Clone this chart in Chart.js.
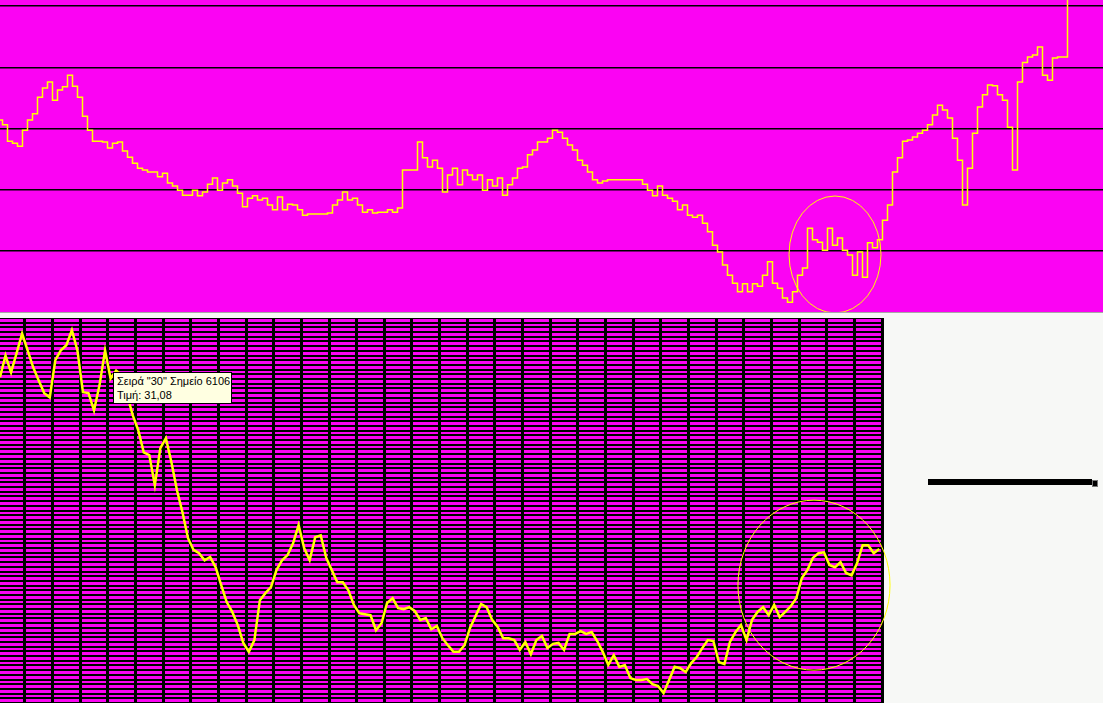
<!DOCTYPE html>
<html>
<head>
<meta charset="utf-8">
<title>Σειρά 30</title>
<script src="https://cdn.jsdelivr.net/npm/chart.js@4.4.1/dist/chart.umd.min.js"></script>
<style>
  html, body { margin: 0; padding: 0; background: #f7f8f6; }
  body { width: 1103px; height: 703px; position: relative; overflow: hidden; }
  #top { position: absolute; left: 0; top: 0; }
  #bottom { position: absolute; left: 0; top: 318px; }
  .seam { position: absolute; left: 0; top: 312px; width: 1103px; height: 1px; background: #a8a8a8; }
  .tip {
    position: absolute; left: 113px; top: 372px; width: 114px; height: 29px;
    background: #ffffe1; border: 1px solid #000; color: #000;
    font: 11px "Liberation Sans", Arial, sans-serif; line-height: 14px;
    padding: 1px 0 0 3px; white-space: nowrap;
  }
  .bar { position: absolute; left: 928px; top: 479px; width: 164px; height: 6px; background: #000; }
  .knob { position: absolute; left: 1092px; top: 480px; width: 4px; height: 5px; background: #000; border: 1px solid #777; }
</style>
</head>
<body>
<canvas id="top" width="1103" height="312"></canvas>
<div class="seam"></div>
<canvas id="bottom" width="1103" height="385"></canvas>
<div class="tip">Σειρά "30" Σημείο 6106<br>Τιμή: 31,08</div>
<div class="bar"></div>
<div class="knob"></div>

<script>
// upper panel: long history, one value per sample
const TOP_START = 0;
const TOP_STEP = 1;
const TOP_X_MAX = 220.6;
const TOP_GRID = [10, 20, 30, 40, 50];
const TOP_VALUES = [
  31.4, 30.6, 27.9, 27.6, 27.1, 29.7, 31.4, 32.4, 35.1, 36.6,
  37.6, 34.6, 36.3, 36.8, 38.7, 36.9, 35.1, 32.0, 29.7, 27.9,
  27.9, 27.8, 26.8, 27.6, 27.8, 26.3, 25.3, 24.3, 23.5, 23.2,
  22.9, 22.9, 22.1, 22.7, 21.1, 20.6, 19.9, 19.1, 19.1, 19.9,
  19.0, 19.6, 20.9, 21.9, 19.9, 21.1, 21.6, 20.6, 19.4, 17.2,
  18.6, 19.0, 18.3, 18.6, 17.5, 16.7, 18.8, 16.7, 17.6, 17.5,
  16.7, 15.8, 16.0, 16.0, 16.0, 16.0, 16.2, 17.5, 18.3, 19.6,
  18.3, 18.6, 17.5, 16.3, 16.7, 16.2, 16.3, 16.3, 16.7, 16.3,
  17.0, 23.2, 23.2, 23.2, 27.8, 25.2, 23.7, 24.8, 23.5, 19.6,
  22.4, 23.5, 20.8, 23.2, 22.4, 21.6, 22.4, 19.9, 21.6, 20.6,
  21.9, 19.1, 20.8, 21.9, 23.5, 23.7, 25.7, 26.5, 27.8, 27.8,
  28.4, 29.7, 29.4, 28.4, 27.3, 26.5, 24.8, 24.0, 22.9, 21.6,
  21.1, 21.4, 21.6, 21.6, 21.6, 21.6, 21.6, 21.6, 21.6, 20.9,
  19.9, 19.0, 20.6, 19.1, 18.6, 18.1, 16.7, 17.5, 15.8, 15.5,
  15.8, 14.5, 13.1, 10.9, 9.8, 7.7, 6.0, 4.7, 3.3, 4.6,
  3.3, 4.6, 4.2, 6.0, 8.2, 4.7, 3.9, 2.3, 1.6, 3.3,
  6.0, 7.2, 13.7, 11.8, 11.4, 10.1, 13.7, 10.9, 12.1, 10.1,
  9.3, 6.0, 9.8, 5.7, 11.3, 10.5, 11.8, 15.0, 17.5, 22.9,
  25.2, 27.9, 28.1, 28.6, 29.2, 29.7, 30.6, 32.2, 33.8, 33.0,
  31.7, 28.4, 24.8, 17.5, 23.5, 29.2, 33.5, 35.5, 37.1, 37.0,
  35.5, 34.6, 30.2, 23.2, 37.6, 40.8, 41.7, 42.0, 43.3, 38.7,
  37.9, 41.5, 41.7, 41.7, 52.0
];
const TOP_RING = { x: 167, y: 9.4, rx: 9.2, ry: 9.56 };

// lower panel: series "30", points 6022..6658 every 4th point
const BOTTOM_START = 6022;
const BOTTOM_STEP = 4;
const BOTTOM_X_MIN = 6022;
const BOTTOM_X_MAX = 6660;
const BOTTOM_Y_MIN = 24;
const BOTTOM_Y_MAX = 32.2;
const BOTTOM_VALUES = [
  30.94, 31.40, 31.04, 31.45, 31.87, 31.51, 31.15, 30.87, 30.60, 30.51,
  31.30, 31.51, 31.62, 31.94, 31.51, 30.62, 30.60, 30.23, 30.77, 31.51,
  30.91, 31.08, 30.98, 30.55, 30.13, 29.81, 29.34, 29.28, 28.64, 29.43,
  29.64, 29.13, 28.53, 28.06, 27.51, 27.26, 27.19, 27.04, 27.11, 26.89,
  26.51, 26.15, 25.94, 25.66, 25.28, 25.09, 25.34, 26.19, 26.34, 26.47,
  26.83, 27.04, 27.15, 27.40, 27.79, 27.30, 27.04, 27.53, 27.57, 27.09,
  26.83, 26.57, 26.57, 26.40, 26.09, 25.91, 25.89, 25.87, 25.55, 25.70,
  26.13, 26.23, 26.02, 26.00, 26.04, 25.96, 25.77, 25.81, 25.57, 25.64,
  25.38, 25.23, 25.09, 25.09, 25.23, 25.60, 25.85, 26.11, 26.04, 25.77,
  25.62, 25.38, 25.38, 25.34, 25.13, 25.30, 25.04, 25.34, 25.43, 25.17,
  25.26, 25.28, 25.13, 25.47, 25.47, 25.53, 25.47, 25.51, 25.32, 25.09,
  24.81, 25.02, 24.77, 24.81, 24.53, 24.49, 24.49, 24.51, 24.40, 24.36,
  24.21, 24.49, 24.77, 24.74, 24.66, 24.85, 24.98, 25.17, 25.34, 25.32,
  24.87, 24.83, 25.30, 25.51, 25.66, 25.34, 25.77, 25.94, 26.04, 25.87,
  26.09, 25.83, 25.94, 26.06, 26.23, 26.66, 26.83, 27.09, 27.19, 27.21,
  26.94, 26.89, 27.00, 26.77, 26.72, 26.98, 27.36, 27.36, 27.19, 27.28
];
const BOTTOM_RING = { x: 6610.8, y: 26.51, rx: 55, ry: 1.81 };

// grid positions
const BOTTOM_X_GRID = [];
for (let v = 6040; v <= BOTTOM_X_MAX; v += 20) BOTTOM_X_GRID.push(v);
const BOTTOM_Y_GRID = [];
for (let k = 0; k <= 82; k++) BOTTOM_Y_GRID.push(+(BOTTOM_Y_MIN + k * 0.1).toFixed(1));

const MAGENTA = '#fb03f3';
const YELLOW = '#ffff00';

// fill the plot area
const panelBg = {
  id: 'panelBg',
  beforeDraw(chart, args, opts) {
    const { ctx, chartArea: a } = chart;
    ctx.save();
    ctx.fillStyle = opts.color;
    ctx.fillRect(a.left, a.top, a.width, a.height);
    ctx.restore();
  }
};

// yellow ring drawn in data units
const ring = {
  id: 'ring',
  afterDatasetsDraw(chart, args, opts) {
    const { ctx, scales: { x, y } } = chart;
    const cx = x.getPixelForValue(opts.x);
    const cy = y.getPixelForValue(opts.y);
    const rx = Math.abs(x.getPixelForValue(opts.x + opts.rx) - cx);
    const ry = Math.abs(y.getPixelForValue(opts.y + opts.ry) - cy);
    ctx.save();
    ctx.strokeStyle = opts.color;
    ctx.lineWidth = 1;
    ctx.beginPath();
    ctx.ellipse(cx, cy, rx, ry, 0, 0, Math.PI * 2);
    ctx.stroke();
    ctx.restore();
  }
};

function hiddenAxis(extra) {
  return Object.assign({
    border: { display: false },
    ticks: { display: false },
    grid: { color: '#000', drawTicks: false }
  }, extra);
}

new Chart(document.getElementById('top'), {
  type: 'line',
  data: {
    datasets: [{
      data: TOP_VALUES.map((v, i) => ({ x: TOP_START + i * TOP_STEP, y: v })),
      borderColor: YELLOW,
      borderWidth: 1.5,
      pointRadius: 0,
      stepped: 'middle'
    }]
  },
  options: {
    responsive: false,
    animation: false,
    events: [],
    layout: { padding: 0 },
    plugins: {
      legend: { display: false },
      tooltip: { enabled: false },
      panelBg: { color: MAGENTA },
      ring: Object.assign({ color: YELLOW }, TOP_RING)
    },
    scales: {
      x: { type: 'linear', min: 0, max: TOP_X_MAX, display: false },
      y: hiddenAxis({
        min: 0, max: 51,
        grid: { color: '#000', lineWidth: 1.5, drawTicks: false },
        afterBuildTicks: s => { s.ticks = TOP_GRID.map(v => ({ value: v })); }
      })
    }
  },
  plugins: [panelBg, ring]
});

new Chart(document.getElementById('bottom'), {
  type: 'line',
  data: {
    datasets: [{
      label: '30',
      data: BOTTOM_VALUES.map((v, i) => ({ x: BOTTOM_START + i * BOTTOM_STEP, y: v })),
      borderColor: YELLOW,
      borderWidth: 2.5,
      pointRadius: 0,
      tension: 0
    }]
  },
  options: {
    responsive: false,
    animation: false,
    events: [],
    layout: { padding: { left: 0, top: 0, bottom: 0, right: 221 } },
    plugins: {
      legend: { display: false },
      tooltip: { enabled: false },
      panelBg: { color: MAGENTA },
      ring: Object.assign({ color: YELLOW }, BOTTOM_RING)
    },
    scales: {
      x: hiddenAxis({
        type: 'linear', min: BOTTOM_X_MIN, max: BOTTOM_X_MAX,
        grid: { color: '#000', lineWidth: 3, drawTicks: false },
        afterBuildTicks: s => { s.ticks = BOTTOM_X_GRID.map(v => ({ value: v })); }
      }),
      y: hiddenAxis({
        min: BOTTOM_Y_MIN, max: BOTTOM_Y_MAX,
        grid: { color: '#000', lineWidth: 2, drawTicks: false },
        afterBuildTicks: s => { s.ticks = BOTTOM_Y_GRID.map(v => ({ value: v })); }
      })
    }
  },
  plugins: [panelBg, ring]
});
</script>
</body>
</html>
